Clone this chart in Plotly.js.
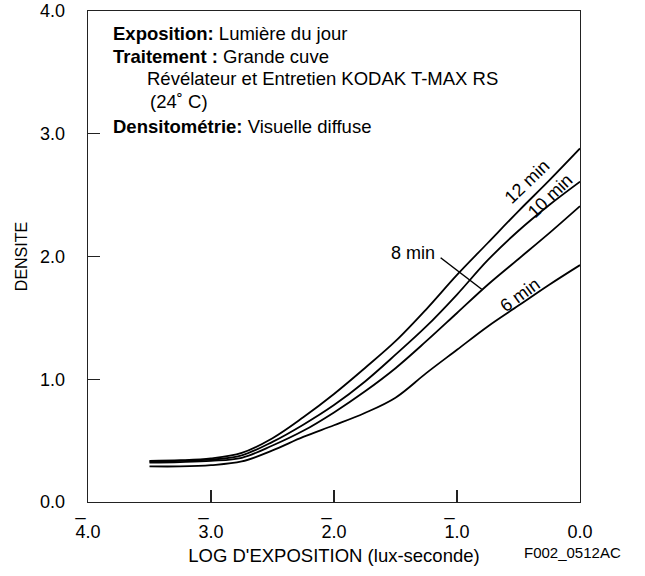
<!DOCTYPE html>
<html>
<head>
<meta charset="utf-8">
<script src="https://cdn.plot.ly/plotly-3.0.1.min.js"></script>
<style>html,body{margin:0;padding:0;background:#fff;}#chart{width:645px;height:576px;}</style>
</head>
<body>
<div id="chart"></div>
<script>
// Log exposure (lux-second)
const logExposure = [-3.5,-3.25,-3.0,-2.75,-2.5,-2.25,-2.0,-1.75,-1.5,-1.25,-1.0,-0.75,-0.5,-0.25,0];
// Density for each development time
const density12min = [0.335,0.34,0.355,0.40,0.52,0.69,0.88,1.09,1.31,1.57,1.85,2.11,2.37,2.62,2.88];
const density10min = [0.33,0.335,0.345,0.38,0.49,0.63,0.79,0.98,1.20,1.43,1.69,1.97,2.21,2.42,2.61];
const density8min  = [0.32,0.325,0.335,0.36,0.46,0.58,0.73,0.90,1.09,1.31,1.54,1.77,1.98,2.19,2.41];
const density6min  = [0.29,0.29,0.30,0.33,0.42,0.53,0.625,0.725,0.85,1.05,1.24,1.43,1.60,1.77,1.93];
const seriesNames = ["12 min","10 min","8 min","6 min"];

const xTickVals = [-4,-3,-2,-1,0];
const xTickText = ["_\u00a0\u00a0\u00a0<br>4.0","_\u00a0\u00a0\u00a0<br>3.0","_\u00a0\u00a0\u00a0<br>2.0","_\u00a0\u00a0\u00a0<br>1.0","\u00a0<br>0.0"];
const yTickVals = [0,1,2,3,4];
const yTickText = ["0.0","1.0","2.0","3.0","4.0"];

const FONT = "Liberation Sans, Arial, sans-serif";
const ink = "#000";

const allSeries = [density12min, density10min, density8min, density6min];
const traces = allSeries.map((ys, i) => ({
  type: "scatter", mode: "lines", name: seriesNames[i],
  x: logExposure, y: ys,
  line: {color: ink, width: 1.8, shape: "spline", smoothing: 1},
  hoverinfo: "skip"
}));

function px2paperX(px){ return (px-88)/492; }
function px2paperY(py){ return (502-py)/491; }

const header = [
  {t:"<b>Exposition:</b> Lumière du jour", x:111, y:34},
  {t:"<b>Traitement :</b> Grande cuve", x:111, y:56},
  {t:"Révélateur et Entretien KODAK T-MAX RS", x:145, y:79},
  {t:"(24˚ C)", x:148, y:102},
  {t:"<b>Densitométrie:</b> Visuelle diffuse", x:111, y:126}
];

const annotations = header.map(h => ({
  xref:"paper", yref:"paper", x:px2paperX(h.x), y:px2paperY(h.y),
  xanchor:"left", yanchor:"middle", text:h.t, showarrow:false,
  font:{family:FONT, size:18.5, color:ink}
}));

annotations.push(
  {xref:"x", yref:"y", x:-0.433, y:2.609, text:"12 min", textangle:-44, showarrow:false, font:{family:FONT,size:18,color:ink}},
  {xref:"x", yref:"y", x:-0.244, y:2.495, text:"10 min", textangle:-44, showarrow:false, font:{family:FONT,size:18,color:ink}},
  {xref:"x", yref:"y", x:-1.355, y:2.026, text:"8 min", showarrow:false, font:{family:FONT,size:18,color:ink}},
  {xref:"x", yref:"y", x:-0.488, y:1.686, text:"6 min", textangle:-36, showarrow:false, font:{family:FONT,size:18,color:ink}},
  {xref:"paper", yref:"paper", x:px2paperX(572), y:px2paperY(552), text:"F002_0512AC", showarrow:false, xanchor:"center", yanchor:"middle", font:{family:FONT,size:15,color:ink}}
);

const layout = {
  width:645, height:576,
  margin:{l:88, r:65, t:11, b:74},
  paper_bgcolor:"#fff", plot_bgcolor:"#fff",
  showlegend:false,
  font:{family:FONT, size:18, color:ink},
  xaxis:{
    range:[-4,0], tickvals:xTickVals, ticktext:xTickText,
    ticks:"inside", ticklen:12, tickwidth:1.3, tickcolor:"#222",
    showline:true, linecolor:"#222", linewidth:1.3, mirror:true,
    showgrid:false, zeroline:false, ticklabelstandoff:-10,
    tickfont:{family:FONT, size:18, color:ink},
    title:{text:"LOG D'EXPOSITION (lux-seconde)", font:{family:FONT,size:18.5,color:ink}, standoff:7}
  },
  yaxis:{
    range:[0,4], tickvals:yTickVals, ticktext:yTickText,
    ticks:"inside", ticklen:12, tickwidth:1.3, tickcolor:"#222",
    showline:true, linecolor:"#222", linewidth:1.3, mirror:true,
    showgrid:false, zeroline:false, ticklabelstandoff:18,
    tickfont:{family:FONT, size:18, color:ink},
    title:{text:"DENSITE", font:{family:FONT,size:16,color:ink}, standoff:8}
  },
  annotations:annotations,
  shapes:[
    {type:"line", xref:"x", yref:"y", x0:-1.133, y0:1.99, x1:-0.799, y1:1.733, line:{color:ink, width:1.5}}
  ]
};

Plotly.newPlot("chart", traces, layout, {staticPlot:true, displayModeBar:false});
</script>
</body>
</html>
